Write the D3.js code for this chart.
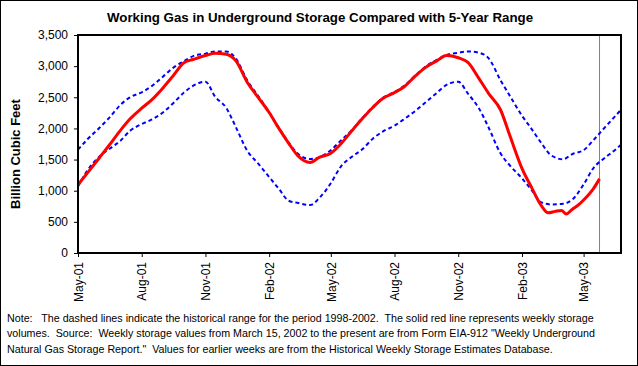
<!DOCTYPE html>
<html><head><meta charset="utf-8">
<script src="https://cdn.jsdelivr.net/npm/d3@7"></script>
<style>
html,body{margin:0;padding:0;background:#fff;}
svg{display:block;font-family:"Liberation Sans",Arial,sans-serif;}
</style></head>
<body>
<svg id="chart" width="638" height="366"></svg>
<script>
// ---- data (Bcf) ----
const rangeDates = ["2001-05-01","2001-05-15","2001-06-01","2001-06-15","2001-07-01","2001-07-15","2001-08-01","2001-08-15","2001-09-01","2001-09-15","2001-10-01","2001-10-15","2001-11-01","2001-11-15","2001-12-01","2001-12-15","2002-01-01","2002-01-15","2002-02-01","2002-02-15","2002-03-01","2002-03-15","2002-04-01","2002-04-15","2002-05-01","2002-05-15","2002-06-01","2002-06-15","2002-07-01","2002-07-15","2002-08-01","2002-08-15","2002-09-01","2002-09-15","2002-10-01","2002-10-15","2002-11-01","2002-11-15","2002-12-01","2002-12-15","2003-01-01","2003-01-15","2003-02-01","2003-02-15","2003-03-01","2003-03-15","2003-04-01","2003-04-15","2003-05-01","2003-05-15","2003-06-01","2003-06-15","2003-06-24"];
const upperRange = [1658,1830,2010,2170,2375,2500,2580,2675,2835,2970,3080,3165,3200,3236,3236,3120,2760,2540,2260,2010,1775,1590,1509,1540,1650,1800,1980,2160,2350,2490,2585,2685,2860,2995,3100,3180,3215,3236,3215,3125,2775,2515,2205,1990,1765,1570,1505,1590,1650,1810,2020,2190,2300];
const lowerRange = [1069,1330,1550,1670,1800,1960,2070,2140,2260,2400,2575,2690,2750,2510,2330,2020,1630,1450,1220,1030,840,802,770,890,1120,1380,1550,1660,1840,1950,2045,2150,2290,2420,2570,2700,2750,2560,2320,2010,1600,1400,1200,1010,812,780,790,860,1100,1360,1530,1650,1738];
const storageDates = ["2001-05-01","2001-05-15","2001-06-01","2001-06-15","2001-07-01","2001-07-15","2001-08-01","2001-08-15","2001-09-01","2001-09-15","2001-10-01","2001-10-15","2001-11-01","2001-11-15","2001-12-01","2001-12-15","2002-01-01","2002-01-15","2002-02-01","2002-02-15","2002-03-01","2002-03-15","2002-04-01","2002-04-15","2002-05-01","2002-05-15","2002-06-01","2002-06-15","2002-07-01","2002-07-15","2002-08-01","2002-08-15","2002-09-01","2002-09-15","2002-10-01","2002-10-15","2002-11-01","2002-11-15","2002-12-01","2002-12-15","2003-01-01","2003-01-15","2003-02-01","2003-02-15","2003-03-01","2003-03-11","2003-03-21","2003-03-30","2003-04-06","2003-04-14","2003-04-24","2003-05-01","2003-05-15","2003-05-24"];
const storage = [1096,1290,1530,1730,1965,2150,2325,2455,2655,2840,3055,3110,3170,3205,3190,3085,2730,2515,2255,2000,1765,1555,1454,1540,1600,1745,1970,2150,2340,2480,2575,2670,2850,2980,3085,3170,3135,3060,2800,2560,2300,1870,1360,1050,760,645,668,684,626,695,775,850,1030,1190];
const currentWeek = "2003-05-24";
const yTicks = [0,500,1000,1500,2000,2500,3000,3500];
const xTickDates = ["2001-05-01","2001-08-01","2001-11-01","2002-02-01","2002-05-01","2002-08-01","2002-11-01","2003-02-01","2003-05-01"];
const xDomain = ["2001-05-01","2003-06-24"];
const titleText = "Working Gas in Underground Storage Compared with 5-Year Range";
const yTitle = "Billion Cubic Feet";
const noteLines = [
  "Note:   The dashed lines indicate the historical range for the period 1998-2002.  The solid red line represents weekly storage",
  "volumes.  Source:  Weekly storage values from March 15, 2002 to the present are from Form EIA-912 \"Weekly Underground",
  "Natural Gas Storage Report.\"  Values for earlier weeks are from the Historical Weekly Storage Estimates Database."
];

// ---- drawing ----
const parse = d3.utcParse("%Y-%m-%d");
const fmtTick = d3.utcFormat("%b-%y");
const svg = d3.select("#chart");
const m = {left:78, top:35, right:621, bottom:253};

const x = d3.scaleUtc().domain(xDomain.map(parse)).range([m.left, m.right]);
const y = d3.scaleLinear().domain([0,3500]).range([m.bottom, m.top]);

// outer border
svg.append("rect").attr("x",0.5).attr("y",0.5).attr("width",637).attr("height",365)
  .attr("fill","#fff").attr("stroke","#000").attr("stroke-width",1);

// title
svg.append("text").attr("x",320).attr("y",22).attr("text-anchor","middle")
  .attr("font-size",13.3).attr("font-weight","bold").text(titleText);

// y title
svg.append("text").attr("transform","translate(19.5,154) rotate(-90)")
  .attr("text-anchor","middle").attr("font-size",13).attr("font-weight","bold").text(yTitle);

// gray current-week marker
svg.append("line").attr("x1",x(parse(currentWeek))).attr("x2",x(parse(currentWeek)))
  .attr("y1",m.top).attr("y2",m.bottom).attr("stroke","#808080").attr("stroke-width",1);

const line = d3.line().x(d=>x(d[0])).y(d=>y(d[1])).curve(d3.curveMonotoneX);
const up = rangeDates.map((d,i)=>[parse(d),upperRange[i]]);
const lo = rangeDates.map((d,i)=>[parse(d),lowerRange[i]]);
const st = storageDates.map((d,i)=>[parse(d),storage[i]]);

const g = svg.append("g");
[up,lo].forEach(s=>{
  g.append("path").attr("d",line(s)).attr("fill","none").attr("stroke","#0000ff")
    .attr("stroke-width",2).attr("stroke-dasharray","4,3");
});
g.append("path").attr("d",line(st)).attr("fill","none").attr("stroke","#ff0000")
  .attr("stroke-width",3).attr("stroke-linejoin","round");

// plot frame
svg.append("rect").attr("x",m.left).attr("y",m.top).attr("width",m.right-m.left).attr("height",m.bottom-m.top)
  .attr("fill","none").attr("stroke","#000").attr("stroke-width",2);

// y axis
const yAxis = d3.axisLeft(y).tickValues(yTicks).tickFormat(d3.format(",")).tickSize(4).tickPadding(6);
const ya = svg.append("g").attr("transform",`translate(${m.left},0)`).call(yAxis);
ya.select(".domain").remove();
ya.selectAll("line").attr("stroke","#000");
ya.selectAll("text").attr("font-size",12).attr("font-family","Liberation Sans, Arial, sans-serif").attr("fill","#000");

// x axis
const xAxis = d3.axisBottom(x).tickValues(xTickDates.map(parse)).tickFormat(fmtTick).tickSize(4);
const xa = svg.append("g").attr("transform",`translate(0,${m.bottom})`).call(xAxis);
xa.select(".domain").remove();
xa.selectAll("line").attr("stroke","#000");
xa.selectAll("text").attr("font-size",12).attr("font-family","Liberation Sans, Arial, sans-serif").attr("fill","#000")
  .attr("text-anchor","end").attr("transform","rotate(-90)").attr("x",-9).attr("y",0).attr("dy","0.35em");

// note
const note = svg.append("text").attr("font-size",10.7).attr("fill","#000").style("white-space","pre");
noteLines.forEach((t,i)=>{
  note.append("tspan").attr("x",7).attr("y",321.5+i*15.5).text(t);
});
</script>
</body></html>
